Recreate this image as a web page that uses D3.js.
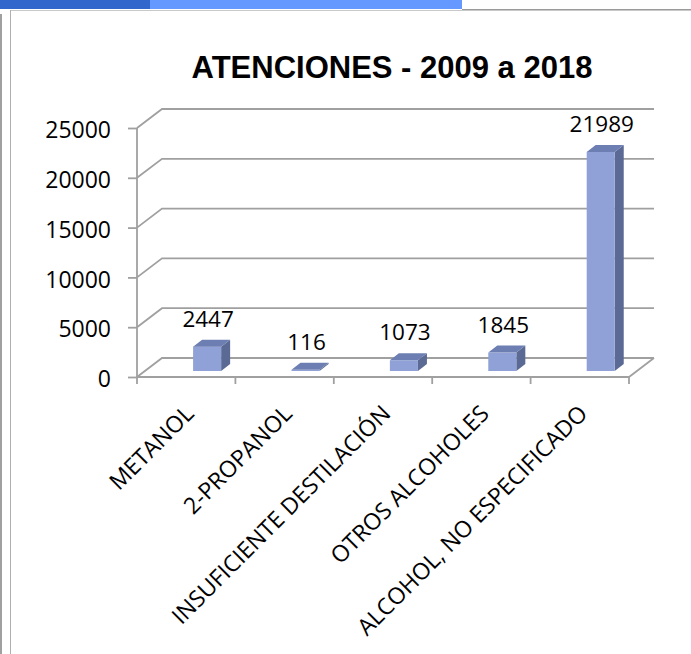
<!DOCTYPE html>
<html>
<head>
<meta charset="utf-8">
<script src="https://cdn.jsdelivr.net/npm/d3@7"></script>
<style>
  html, body { margin: 0; padding: 0; background: #fff; }
  svg { display: block; }
</style>
</head>
<body>
<svg id="chart" width="691" height="654"></svg>
<script>
// Attention counts by alcohol type, 2009-2018
const categories = [
  "METANOL",
  "2-PROPANOL",
  "INSUFICIENTE DESTILACIÓN",
  "OTROS ALCOHOLES",
  "ALCOHOL, NO ESPECIFICADO"
];
const values = [2447, 116, 1073, 1845, 21989];
const yTicks = [0, 5000, 10000, 15000, 20000, 25000];
const title = "ATENCIONES - 2009 a 2018";

const svg = d3.select("#chart");
const W = 691, H = 654;

// page frame: coloured strip and grey borders
svg.append("rect").attr("x", 0).attr("y", 0).attr("width", 150).attr("height", 9).attr("fill", "#3366CC");
svg.append("rect").attr("x", 150).attr("y", 0).attr("width", 312).attr("height", 9).attr("fill", "#6699FF");
svg.append("line").attr("x1", 462).attr("x2", W).attr("y1", 9.5).attr("y2", 9.5).attr("stroke", "#9a9a9a").attr("stroke-width", 1);
svg.append("line").attr("x1", 10).attr("x2", W).attr("y1", 10.5).attr("y2", 10.5).attr("stroke", "#c8c8c8").attr("stroke-width", 1);
svg.append("line").attr("x1", 1).attr("x2", 1).attr("y1", 14).attr("y2", H).attr("stroke", "#a0a0a0").attr("stroke-width", 2);
svg.append("line").attr("x1", 10.5).attr("x2", 10.5).attr("y1", 10).attr("y2", H).attr("stroke", "#b0b0b0").attr("stroke-width", 1);

// scales
const y = d3.scaleLinear().domain([0, 25000]).range([377, 128]);
const x = d3.scaleBand().domain(categories).range([137, 629]).padding(0);
const bw = x.bandwidth();

// 3D wall depth
const depth = { dx: 25, dy: -19 };
const wallRight = 654;
const gridColor = "#a0a0a0";
const gridWidth = 1.8;

// title
svg.append("text")
  .attr("x", 392).attr("y", 78)
  .attr("text-anchor", "middle")
  .attr("font-family", "'Liberation Sans', Arial, sans-serif")
  .attr("font-weight", "bold")
  .attr("font-size", 31)
  .attr("fill", "#000")
  .text(title);

// gridlines on side wall and back wall
const grid = svg.append("g").attr("fill", "none").attr("stroke", gridColor).attr("stroke-width", gridWidth);
grid.selectAll("path").data(yTicks).join("path")
  .attr("d", v => `M${x.range()[0]},${y(v)} L${x.range()[0] + depth.dx},${y(v) + depth.dy} L${wallRight},${y(v) + depth.dy}`);

// floor right edge
grid.append("path")
  .attr("d", `M${x.range()[1]},${y(0)} L${x.range()[1] + depth.dx},${y(0) + depth.dy}`);

// value axis
const yAxis = d3.axisLeft(y).tickValues(yTicks).tickSize(9).tickPadding(17).tickFormat(d3.format("d"));
const gy = svg.append("g").attr("transform", `translate(${x.range()[0]},0)`).call(yAxis);
gy.select(".domain").attr("stroke", gridColor).attr("stroke-width", gridWidth).attr("d", `M0,${y(25000)}V${y(0)}`);
gy.selectAll(".tick line").attr("stroke", gridColor).attr("stroke-width", gridWidth);
gy.selectAll(".tick text")
  .attr("font-family", "'Open Sans', sans-serif")
  .attr("font-size", 23)
  .attr("fill", "#000")
  .attr("dy", "0.42em");

// category axis line with boundary ticks
const boundaries = categories.map(c => x(c)).concat([x.range()[1]]);
const gx = svg.append("g").attr("stroke", gridColor).attr("stroke-width", gridWidth);
gx.append("line").attr("x1", x.range()[0]).attr("x2", x.range()[1]).attr("y1", y(0)).attr("y2", y(0));
gx.selectAll("line.tick").data(boundaries).join("line").attr("class", "tick")
  .attr("x1", d => d).attr("x2", d => d).attr("y1", y(0)).attr("y2", y(0) + 7);

// bars: front face sits part-way into the floor depth
const barOff = { dx: 8, dy: -6 };
const barDepth = { dx: 9, dy: -7 };
const barLeft = c => x(c) + bw * 0.57;
const barW = bw * 0.285;
const by = v => y(v) + barOff.dy;

const bars = svg.append("g");
categories.forEach((c, i) => {
  const v = values[i];
  const x0 = barLeft(c), x1 = x0 + barW;
  const yb = by(0), yt = by(v);
  const g = bars.append("g");
  // side face
  g.append("path")
    .attr("d", `M${x1},${yt} L${x1 + barDepth.dx},${yt + barDepth.dy} L${x1 + barDepth.dx},${yb + barDepth.dy} L${x1},${yb} Z`)
    .attr("fill", "#5b6a95");
  // front face
  g.append("rect")
    .attr("x", x0).attr("y", yt).attr("width", barW).attr("height", Math.max(0, yb - yt))
    .attr("fill", "#8fa1d7");
  // top face
  g.append("path")
    .attr("d", `M${x0},${yt} L${x1},${yt} L${x1 + barDepth.dx},${yt + barDepth.dy} L${x0 + barDepth.dx},${yt + barDepth.dy} Z`)
    .attr("fill", "#6d7fb2");
});

// value labels
svg.append("g").selectAll("text").data(categories).join("text")
  .attr("x", c => barLeft(c) + barW / 2 + 1)
  .attr("y", (c, i) => by(values[i]) + barDepth.dy - 13)
  .attr("text-anchor", "middle")
  .attr("font-family", "'Open Sans', sans-serif")
  .attr("font-size", 22.5)
  .attr("fill", "#000")
  .text((c, i) => values[i]);

// rotated category labels
svg.append("g").selectAll("text").data(categories).join("text")
  .attr("transform", c => `translate(${x(c) + bw / 2 + 9},${415}) rotate(-45)`)
  .attr("text-anchor", "end")
  .attr("font-family", "'Open Sans', sans-serif")
  .attr("font-size", 23)
  .attr("fill", "#000")
  .text(c => c);
</script>
</body>
</html>
